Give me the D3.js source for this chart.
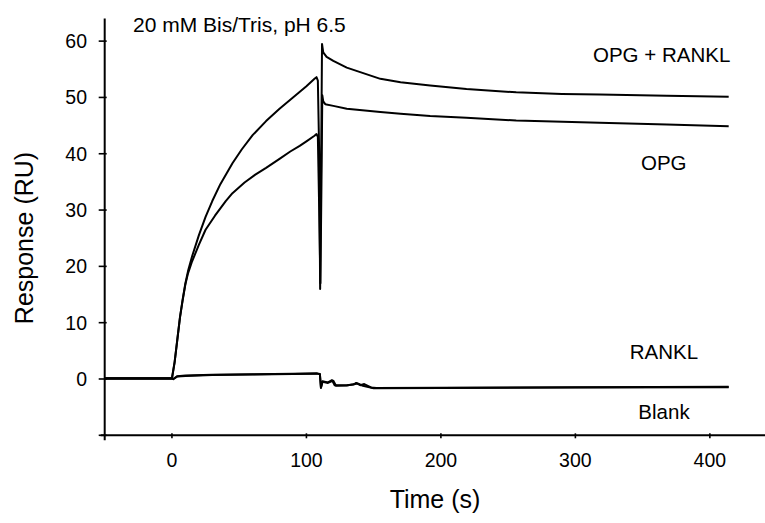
<!DOCTYPE html>
<html>
<head>
<meta charset="utf-8">
<script src="https://cdn.jsdelivr.net/npm/d3@7"></script>
<style>
  body { margin: 0; background: #fff; }
  svg { display: block; font-family: "Liberation Sans", Arial, sans-serif; }
</style>
</head>
<body>
<div id="chart"></div>
<script>
const width = 765, height = 523;

// sensorgram traces, [time (s), response (RU)]
const opgRankl = [
  [-50,0.1],[0,0.1],[2,3],[4,7],[6,11],[8,14.2],[10,17],[12,19.2],[15,21.8],[20,25.5],
  [25,28.8],[30,31.6],[36,34.6],[45,38.3],[52,40.8],[60,43.3],[70,45.8],[80,48],[90,50],
  [100,52],[106,53.3],[107.5,53.6],[108.5,53],[109.5,40],[110.2,16],[111,40],[111.6,59.5],
  [112.5,58],[115,57.2],[120,56.5],[130,55.3],[140,54.5],[155,53.3],[170,52.7],[192,52.1],
  [219,51.5],[256,50.9],[290,50.6],[318,50.5],[368,50.3],[414,50.1]
];
const opg = [
  [-50,0.1],[0,0.1],[2,3],[4,7],[6,11],[8,14],[10,16.8],[12,18.8],[15,20.9],[20,23.8],
  [25,26.5],[32,29],[40,31.6],[45,33],[54,34.9],[62,36.3],[70,37.5],[80,39.1],[88,40.4],
  [95,41.4],[100,42.2],[106,43.2],[107.5,43.5],[108.5,43],[109.5,30],[110.4,17],[111.2,35],
  [111.8,50.4],[112.5,49.3],[114,48.8],[120,48.5],[130,48],[155,47.4],[170,47.1],[192,46.7],
  [219,46.4],[256,45.9],[318,45.5],[368,45.2],[414,44.9]
];
const rankl = [
  [-50,0.15],[0,0.15],[1,0],[4,0.5],[10,0.6],[30,0.75],[60,0.85],[90,0.95],[108,1.0],
  [110,0.9],[110.8,-1.6],[112,-0.4],[116,-0.6],[119,-0.2],[121,-1.1],[130,-1.1],[135,-1.0],
  [137,-0.7],[140,-1.1],[143,-0.9],[148,-1.5],[152,-1.6],[200,-1.55],[300,-1.45],[414,-1.4]
];
const blank = [
  [-50,0.1],[0,0.1],[1,-0.05],[4,0.45],[10,0.55],[30,0.7],[60,0.8],[90,0.9],[108,0.95],
  [110,0.85],[110.8,-1.5],[112,-0.5],[116,-0.7],[120,-0.3],[122,-1.2],[130,-1.15],
  [138,-0.8],[142,-1.2],[150,-1.65],[200,-1.6],[300,-1.5],[414,-1.45]
];

const xTicks = [0, 100, 200, 300, 400];
const yTicks = [0, 10, 20, 30, 40, 50, 60];

const seriesLabels = [
  { text: "OPG + RANKL", x: 593, y: 62, anchor: "start" },
  { text: "OPG", x: 641, y: 170, anchor: "start" },
  { text: "RANKL", x: 664, y: 359, anchor: "middle" },
  { text: "Blank", x: 664, y: 419, anchor: "middle" }
];

const svg = d3.select("#chart").append("svg")
  .attr("width", width)
  .attr("height", height);

const x = d3.scaleLinear().domain([-50, 441]).range([104.7, 765]);
const y = d3.scaleLinear().domain([-10, 64]).range([435.3, 18.6]);

const x0 = x(-50), y0 = y(-10);

// AXES
svg.append("line")
  .attr("x1", x0).attr("x2", x0)
  .attr("y1", y(64)).attr("y2", y0 + 5)
  .attr("stroke", "#000").attr("stroke-width", 2);

svg.append("line")
  .attr("x1", x0 - 4).attr("x2", width)
  .attr("y1", y0).attr("y2", y0)
  .attr("stroke", "#000").attr("stroke-width", 2);

svg.selectAll(".ytick")
  .data([-10, ...yTicks])
  .join("line")
  .attr("x1", x0 - 6).attr("x2", x0 + 2)
  .attr("y1", d => y(d)).attr("y2", d => y(d))
  .attr("stroke", "#000").attr("stroke-width", 1.6);

svg.selectAll(".xtick")
  .data(xTicks)
  .join("line")
  .attr("x1", d => x(d)).attr("x2", d => x(d))
  .attr("y1", y0 - 2).attr("y2", y0 + 3)
  .attr("stroke", "#000").attr("stroke-width", 1.6);

svg.selectAll(".ylab")
  .data(yTicks)
  .join("text")
  .attr("x", 87)
  .attr("y", d => y(d) + 7)
  .attr("text-anchor", "end")
  .attr("font-size", 19.5)
  .text(d => d);

svg.selectAll(".xlab")
  .data(xTicks)
  .join("text")
  .attr("x", d => x(d))
  .attr("y", 467)
  .attr("text-anchor", "middle")
  .attr("font-size", 19.5)
  .text(d => d);

svg.append("text")
  .attr("x", 435).attr("y", 508)
  .attr("text-anchor", "middle")
  .attr("font-size", 25)
  .text("Time (s)");

svg.append("text")
  .attr("transform", "translate(33,238) rotate(-90)")
  .attr("text-anchor", "middle")
  .attr("font-size", 25)
  .text("Response (RU)");

svg.append("text")
  .attr("x", 133).attr("y", 32)
  .attr("font-size", 21)
  .text("20 mM Bis/Tris, pH 6.5");

// TRACES
const line = d3.line()
  .x(d => x(d[0]))
  .y(d => y(d[1]));

[blank, rankl, opg, opgRankl].forEach(s => {
  svg.append("path")
    .datum(s)
    .attr("fill", "none")
    .attr("stroke", "#000")
    .attr("stroke-width", 2)
    .attr("stroke-linejoin", "round")
    .attr("d", line);
});

svg.selectAll(".slab")
  .data(seriesLabels)
  .join("text")
  .attr("x", d => d.x)
  .attr("y", d => d.y)
  .attr("text-anchor", d => d.anchor)
  .attr("font-size", 20.5)
  .text(d => d.text);
</script>
</body>
</html>
